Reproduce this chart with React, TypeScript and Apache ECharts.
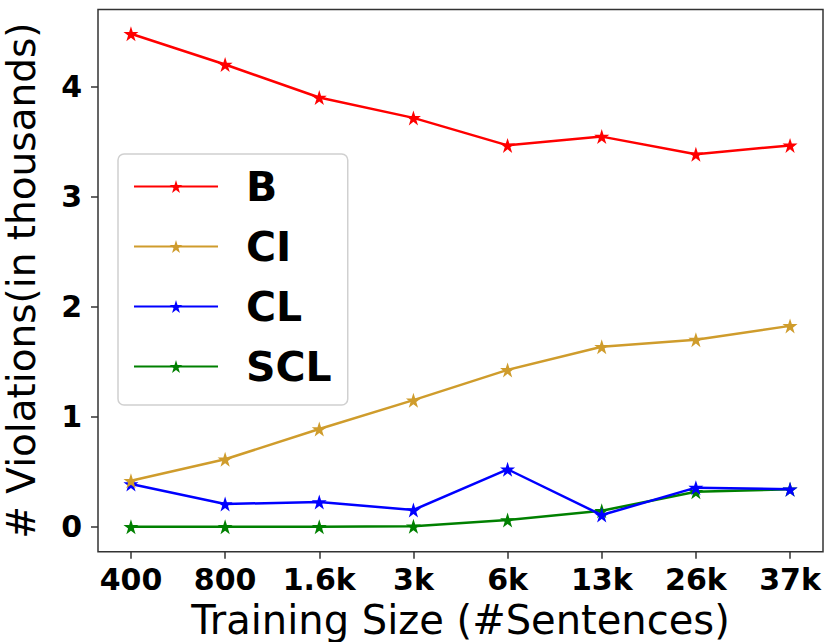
import React, { useEffect, useRef } from "react";
import * as echarts from "echarts";

const categories = ["400", "800", "1.6k", "3k", "6k", "13k", "26k", "37k"];
const yTicks = [0, 1, 2, 3, 4];
const seriesNames = ["B", "CI", "CL", "SCL"];
const valuesB = [4.48, 4.2, 3.9, 3.715, 3.465, 3.545, 3.385, 3.465];
const valuesCI = [0.418, 0.613, 0.888, 1.15, 1.425, 1.635, 1.7, 1.825];
const valuesCL = [0.388, 0.206, 0.225, 0.152, 0.522, 0.106, 0.355, 0.34];
const valuesSCL = [0.0, 0.0, 0.0, 0.005, 0.061, 0.145, 0.318, 0.34];
const colors = ["#ff0000", "#cf9c2c", "#0000ff", "#008000"];

const allValues = [valuesB, valuesCI, valuesCL, valuesSCL];

export default function App() {
  const ref = useRef<HTMLDivElement>(null);
  useEffect(() => {
    if (!ref.current) return;
    const chart = echarts.init(ref.current, null, { renderer: "svg" });
    const font = "DejaVu Sans";
    chart.setOption({
      animation: false,
      backgroundColor: "#ffffff",
      grid: {
        left: 98,
        right: 2,
        top: 9.5,
        bottom: 90.3,
        show: true,
        borderColor: "#333333",
        borderWidth: 1.5,
        containLabel: false,
        outerBoundsMode: "none",
      },
      legend: {
        orient: "vertical",
        left: 118,
        top: 154,
        padding: [12, 16, 18, 15],
        backgroundColor: "#ffffff",
        borderColor: "#d0d0d0",
        borderWidth: 1.5,
        borderRadius: 6,
        itemWidth: 84,
        itemHeight: 16,
        itemGap: 19,
        data: seriesNames,
        textStyle: {
          fontFamily: font,
          fontWeight: "bold",
          fontSize: 41,
          color: "#000000",
          padding: [0, 0, 0, 23],
        },
      },
      xAxis: {
        type: "value",
        min: -0.35,
        max: 7.35,
        name: "Training Size (#Sentences)",
        nameLocation: "middle",
        nameGap: 45,
        nameTextStyle: { fontFamily: font, fontSize: 40, lineHeight: 40, color: "#000000" },
        axisLine: { show: false, onZero: false },
        splitLine: { show: false },
        axisTick: {
          show: true,
          length: 7,
          inside: false,
          customValues: categories.map((_, i) => i),
          lineStyle: { color: "#333333", width: 1.5 },
        },
        axisLabel: {
          customValues: categories.map((_, i) => i),
          formatter: (v: number) => categories[Math.round(v)] ?? "",
          fontFamily: font,
          fontWeight: "bold",
          fontSize: 30,
          color: "#000000",
          margin: 13,
        },
      },
      yAxis: {
        type: "value",
        min: -0.227,
        max: 4.7,
        name: "# Violations(in thousands)",
        nameLocation: "middle",
        nameGap: 57,
        nameRotate: 90,
        nameTextStyle: { fontFamily: font, fontSize: 39, lineHeight: 39, color: "#000000" },
        axisLine: { show: false, onZero: false },
        splitLine: { show: false },
        axisTick: {
          show: true,
          length: 7,
          inside: false,
          customValues: yTicks,
          lineStyle: { color: "#333333", width: 1.5 },
        },
        axisLabel: {
          customValues: yTicks,
          formatter: (v: number) => String(Math.round(v)),
          fontFamily: font,
          fontWeight: "bold",
          fontSize: 30,
          color: "#000000",
          margin: 16,
        },
      },
      series: seriesNames.map((name, si) => ({
        name,
        type: "line",
        data: allValues[si].map((v, i) => [i, v]),
        symbol: "path://M50,0 L61.8,36.2 L100,36.2 L69.1,58.8 L80.9,95.1 L50,72.7 L19.1,95.1 L30.9,58.8 L0,36.2 L38.2,36.2 Z",
        symbolSize: 15,
        lineStyle: { color: colors[si], width: 2.5 },
        itemStyle: { color: colors[si] },
        z: 10 - si,
      })),
    });
    return () => chart.dispose();
  }, []);
  return (
    <div
      ref={ref}
      style={{ position: "absolute", left: 0, top: 0, width: 825, height: 642 }}
    />
  );
}
